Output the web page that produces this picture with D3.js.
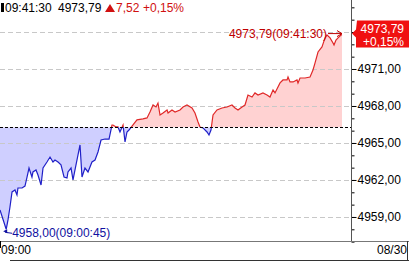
<!DOCTYPE html>
<html>
<head>
<meta charset="utf-8">
<script src="https://cdn.jsdelivr.net/npm/d3@7"></script>
<style>
  body { margin: 0; background: #fff; }
  svg { display: block; font-family: "Liberation Sans Narrow", "Liberation Sans", Arial, sans-serif; font-size: 12px; }
</style>
</head>
<body>
<div id="chart"></div>
<script>
// minutes after 09:00 and index values
const minutes = [0, 0.75, 0.97, 1.21, 1.46, 1.82, 2.06, 2.18, 2.67, 3.03, 3.28, 3.52, 3.88, 4.00, 4.37, 4.61,
  4.98, 5.22, 5.70, 6.07, 6.43, 6.67, 7.04, 7.40, 7.77, 8.13, 8.25, 8.62, 8.86, 9.10, 9.71, 9.95, 10.31, 10.68,
  11.16, 11.53, 11.89, 12.26, 12.74, 13.23, 13.59, 13.71, 14.08, 14.32, 14.56, 14.93, 15.17, 15.41, 15.65, 16.14,
  16.62, 17.35, 17.84, 18.20, 18.57, 18.93, 19.17, 19.42, 19.78, 20.27, 20.39, 20.87, 21.24, 21.84, 22.21, 22.69,
  23.30, 23.66, 24.03, 24.27, 24.63, 25.12, 25.36, 25.60, 25.85, 26.33, 26.94, 27.55, 28.15, 28.52, 28.88, 29.37,
  29.73, 30.09, 30.58, 30.94, 31.31, 31.91, 32.40, 32.76, 33.13, 33.37, 33.98, 34.34, 34.83, 34.95, 35.19, 35.56,
  36.04, 36.16, 36.41, 37.01, 37.62, 37.98, 38.23, 38.59, 39.07, 39.44, 39.68, 40.05, 40.41, 40.53, 40.77, 41.02,
  41.38, 41.50];
const prices = [4959.57, 4958.00, 4958.76, 4959.81, 4961.03, 4961.19, 4960.78, 4961.35, 4961.35, 4961.51, 4962.24,
  4962.97, 4962.24, 4962.65, 4962.81, 4962.40, 4961.59, 4962.97, 4963.46, 4963.86, 4963.46, 4963.62, 4963.46,
  4963.22, 4962.24, 4962.16, 4962.65, 4962.97, 4962.00, 4962.81, 4964.84, 4962.24, 4962.97, 4962.65, 4963.46,
  4963.62, 4964.27, 4965.24, 4965.32, 4965.32, 4966.46, 4966.46, 4966.30, 4966.30, 4965.89, 4966.46, 4965.08,
  4965.89, 4966.05, 4966.46, 4966.87, 4966.95, 4967.03, 4967.51, 4968.08, 4967.92, 4968.24, 4967.27, 4967.43,
  4967.68, 4967.43, 4967.68, 4967.51, 4967.68, 4967.92, 4968.08, 4967.84, 4967.43, 4966.70, 4966.30, 4966.22,
  4965.89, 4965.65, 4966.05, 4967.27, 4967.68, 4967.84, 4967.92, 4968.08, 4967.84, 4967.68, 4967.92, 4968.08,
  4968.89, 4968.73, 4969.06, 4968.89, 4969.06, 4968.89, 4968.73, 4969.30, 4969.06, 4969.87, 4970.11, 4970.11,
  4970.35, 4969.95, 4969.95, 4970.11, 4969.87, 4970.27, 4970.27, 4970.35, 4970.92, 4971.49, 4972.38, 4972.79,
  4973.52, 4973.76, 4973.52, 4973.11, 4972.95, 4973.35, 4973.52, 4973.76, 4973.79];

const prevClose = 4966.27;
const change = "7,52";
const changePct = "+0,15%";
const lastTime = "09:41:30";
const lowTime = "09:00:45";
const majorTicks = [4959, 4962, 4965, 4968, 4971, 4974];
const minorTicks = d3.range(4957, 4977);
const xLabels = ["09:00", "08/30"];

const W = 409, H = 262;
const plotRight = 351, plotBottom = 241;

const data = minutes.map((m, i) => ({ t: m, v: prices[i] }));
const fmt = v => d3.format(".2f")(v).replace(".", ",");

const svg = d3.select("#chart").append("svg")
  .attr("width", W).attr("height", H);

const x = d3.scaleLinear().domain([0, 41.5]).range([0, 342]);
const y = d3.scaleLinear().domain([4958, 4974]).range([229.3, 32]);
const yRef = y(prevClose);

// clip regions above / below previous close
const defs = svg.append("defs");
defs.append("clipPath").attr("id", "above")
  .append("rect").attr("x", 0).attr("y", 0).attr("width", plotRight).attr("height", yRef);
defs.append("clipPath").attr("id", "below")
  .append("rect").attr("x", 0).attr("y", yRef).attr("width", plotRight).attr("height", plotBottom - yRef);

const area = d3.area().x(d => x(d.t)).y0(yRef).y1(d => y(d.v));
const line = d3.line().x(d => x(d.t)).y(d => y(d.v));

svg.append("path").datum(data).attr("d", area)
  .attr("fill", "#ffd2d2").attr("clip-path", "url(#above)");
svg.append("path").datum(data).attr("d", area)
  .attr("fill", "#cfcfff").attr("clip-path", "url(#below)");

// grid
svg.append("g").selectAll("line").data(majorTicks).join("line")
  .attr("x1", 0).attr("x2", plotRight)
  .attr("y1", d => Math.round(y(d)) + 0.5).attr("y2", d => Math.round(y(d)) + 0.5)
  .attr("stroke", "#c8c8c8").attr("stroke-dasharray", "5,3");

svg.append("path").datum(data).attr("d", line)
  .attr("fill", "none").attr("stroke", "#e02828").attr("stroke-width", 1.2)
  .attr("clip-path", "url(#above)");
svg.append("path").datum(data).attr("d", line)
  .attr("fill", "none").attr("stroke", "#2020c8").attr("stroke-width", 1.2)
  .attr("clip-path", "url(#below)");

// previous close
svg.append("line")
  .attr("x1", 0).attr("x2", plotRight)
  .attr("y1", Math.round(yRef) + 0.5).attr("y2", Math.round(yRef) + 0.5)
  .attr("stroke", "#000").attr("stroke-dasharray", "3,2");

// right axis
const minorAxis = svg.append("g")
  .attr("transform", `translate(${plotRight + 0.5},0)`)
  .call(d3.axisRight(y).tickValues(minorTicks).tickSize(3).tickFormat(""));
const majorAxis = svg.append("g")
  .attr("transform", `translate(${plotRight + 0.5},0)`)
  .call(d3.axisRight(y).tickValues(majorTicks.slice(0, 5)).tickSize(5).tickPadding(1).tickFormat(fmt));
[minorAxis, majorAxis].forEach(g => {
  g.select(".domain").remove();
  g.selectAll("line").attr("stroke", "#000");
  g.selectAll("text").attr("fill", "#000").style("font-size", "12px").style("font-family", null);
});
svg.append("line").attr("x1", plotRight + 0.5).attr("x2", plotRight + 0.5)
  .attr("y1", 0).attr("y2", plotBottom).attr("stroke", "#555");

// bottom time axis panel
svg.append("line").attr("x1", 0).attr("x2", W).attr("y1", plotBottom + 0.5).attr("y2", plotBottom + 0.5)
  .attr("stroke", "#777");
svg.append("line").attr("x1", 10).attr("x2", W).attr("y1", 260.5).attr("y2", 260.5).attr("stroke", "#333");
svg.append("line").attr("x1", 407.5).attr("x2", 407.5).attr("y1", plotBottom).attr("y2", 261).attr("stroke", "#333");
svg.append("line").attr("x1", x(0) + 0.5).attr("x2", x(0) + 0.5).attr("y1", plotBottom).attr("y2", 248).attr("stroke", "#000");
svg.append("text").attr("x", x(0) + 1).attr("y", 254).text(xLabels[0]);
svg.append("text").attr("x", 407).attr("y", 254).attr("text-anchor", "end").text(xLabels[1]);

// header
svg.append("rect").attr("x", 1).attr("y", 3).attr("width", 3).attr("height", 9).attr("fill", "#000");
svg.append("text").attr("x", 5).attr("y", 12).text(lastTime);
svg.append("text").attr("x", 58).attr("y", 12).text(fmt(prices[prices.length - 1]));
svg.append("path").attr("d", "M105,12L110,4L115,12Z").attr("fill", "#d01010");
svg.append("text").attr("x", 116).attr("y", 12).attr("fill", "#d01010").text(change);
svg.append("text").attr("x", 143).attr("y", 12).attr("fill", "#d01010").text(changePct);

// last value label with arrow
const last = data[data.length - 1];
const lx = x(last.t), ly = y(last.v) - 1;
svg.append("line").attr("x1", lx - 14).attr("x2", lx).attr("y1", ly).attr("y2", ly).attr("stroke", "#c00000");
svg.append("path").attr("d", `M${lx - 5},${ly - 3}L${lx},${ly}L${lx - 5},${ly + 3}`)
  .attr("fill", "none").attr("stroke", "#c00000");
svg.append("text").attr("x", lx - 15).attr("y", ly + 4).attr("text-anchor", "end")
  .attr("fill", "#c00000").text(`${fmt(last.v)}(${lastTime})`);

// low value label with arrow
const low = data[d3.minIndex(data, d => d.v)];
const mx = x(low.t), my = y(low.v);
svg.append("line").attr("x1", mx - 1).attr("x2", mx + 6).attr("y1", my + 3).attr("y2", my + 4).attr("stroke", "#1010a0");
svg.append("path").attr("d", `M${mx - 3},${my + 2}L${mx + 1},${my}L${mx + 1},${my + 4}Z`).attr("fill", "#1010a0");
svg.append("text").attr("x", mx + 6).attr("y", my + 8).attr("fill", "#1010a0")
  .text(`${fmt(low.v)}(${lowTime})`);

// current price tag on axis
const ty = y(last.v);
svg.append("path")
  .attr("d", `M357,${ty - 14}L${W},${ty - 14}L${W},${ty + 13}L356,${ty + 13}L356,${ty + 3}L352,${ty - 1}L356,${ty - 5}Z`)
  .attr("fill", "#f01010");
svg.append("text").attr("x", 404).attr("y", ty - 2).attr("text-anchor", "end").attr("fill", "#fff")
  .text(fmt(last.v));
svg.append("text").attr("x", 404).attr("y", ty + 11).attr("text-anchor", "end").attr("fill", "#fff")
  .text(changePct);
</script>
</body>
</html>
